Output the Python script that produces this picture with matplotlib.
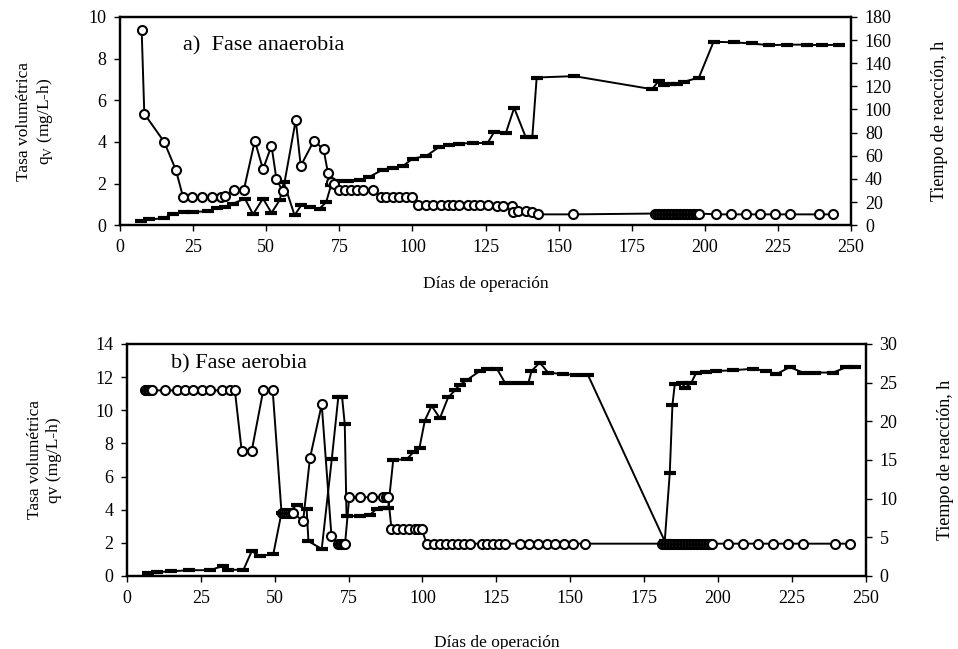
import numpy as np
import matplotlib
matplotlib.use("Agg")
import matplotlib.pyplot as plt

plt.rcParams['font.family'] = ['Liberation Serif', 'DejaVu Serif']

# ---- a) fase anaerobia ----
# qv (mg/L-h), circles, left axis
a_qv_dias = [7.4, 8.3, 15.1, 19.1, 21.6, 24.5, 27.9, 31.3, 34.7, 35.8, 38.9, 42.3,
             46.1, 48.9, 51.8, 53.5, 55.7, 60.1, 61.8, 66.3, 69.6, 71.1, 72.3, 73.3,
             75, 77, 79, 81, 83, 86.5, 89.3, 91, 93.3, 95.5, 97.8, 100,
             101.8, 104.7, 107, 109.7, 112, 114, 116, 119, 121, 123, 126, 129, 131,
             134, 134.5, 136, 138.8, 141, 143.1, 155,
             183, 183.5, 184, 184.5, 185, 185.5, 186, 186.5, 187, 187.5, 188, 188.5,
             189, 189.5, 190, 190.5, 191, 191.5, 192, 192.5, 193, 193.5, 194, 194.5,
             195, 195.5, 196, 196.5, 197, 197.5, 198,
             204, 209, 214, 219, 224, 229, 239, 244]
a_qv = [9.35, 5.35, 4.0, 2.65, 1.33, 1.33, 1.33, 1.33, 1.33, 1.4, 1.7, 1.67,
        4.05, 2.68, 3.82, 2.2, 1.62, 5.05, 2.85, 4.05, 3.65, 2.52, 2.05, 2.0,
        1.7, 1.7, 1.7, 1.7, 1.67, 1.67, 1.35, 1.35, 1.35, 1.35, 1.35, 1.35,
        0.97, 0.97, 0.97, 0.97, 0.97, 0.97, 0.97, 0.97, 0.97, 0.97, 0.97, 0.93, 0.93,
        0.93, 0.62, 0.7, 0.7, 0.65, 0.52, 0.52,
        0.56, 0.56, 0.56, 0.56, 0.56, 0.56, 0.56, 0.56, 0.56, 0.56, 0.56, 0.56,
        0.56, 0.56, 0.56, 0.56, 0.56, 0.56, 0.56, 0.56, 0.56, 0.56, 0.56, 0.56,
        0.56, 0.56, 0.56, 0.56, 0.56, 0.56, 0.56,
        0.52, 0.52, 0.52, 0.52, 0.52, 0.52, 0.52, 0.52]

# tiempo de reaccion (h), dashes, right axis
a_t_dias = [7, 10, 15, 18, 22, 25, 30, 33, 36, 38.7, 42.7, 45.5, 48.9, 51.8, 54.6,
            56, 59.7, 62, 64.8, 68.3, 70.5, 72.2, 74, 78, 82, 85.3, 89.9, 93.3, 96.7,
            100.1, 104.7, 109.2, 112.6, 116, 120.6, 125.7, 128, 132, 134.8, 138.8, 141,
            142.5, 155.3, 182, 184.3, 186, 188, 190.6, 193, 198, 203, 210, 216, 222,
            228, 235, 240, 246]
a_t = [4, 5, 6, 10, 11, 11.5, 12, 15, 16, 18.7, 23, 9.5, 23, 10.7, 21.6,
       37, 8.6, 17.3, 15.6, 14.4, 20, 34.6, 38, 38.5, 39, 41.8, 48.1, 49.8, 51,
       57.6, 59.7, 67.7, 69, 70.5, 71, 71, 80.7, 80, 101.4, 75.8, 75.8,
       127.6, 128.8, 117.5, 125, 121, 122, 122.4, 124, 127.6, 158.5, 158, 157, 155.5,
       156, 156, 155.5, 156]

# ---- b) fase aerobia ----
b_qv_dias = [6, 6.5, 7, 7.5, 8, 8.4, 12.9, 16.8, 19.6, 22.4, 25.3, 28.1, 32, 34.8, 36.5,
             38.8, 42.2, 46.1, 49.3, 52.3, 53, 53.7, 54.4, 55.1, 55.8, 56.3, 59.6, 61.9, 65.9,
             69.2, 71.5, 72, 72.5, 73, 73.5, 73.8, 75.2, 78.8, 82.8, 86.7, 87.5, 88.4,
             89.5, 91.5, 93.5, 95.5, 97.4, 98.5, 99.7,
             101.4, 104, 106, 108, 110, 112, 114, 116, 120, 122, 124, 126, 128, 133,
             136, 139, 142, 145, 148, 151, 155,
             181, 181.5, 182, 182.5, 183, 183.5, 184, 184.5, 185, 185.5, 186, 186.5,
             187, 187.5, 188, 188.5, 189, 189.5, 190, 190.5, 191, 191.5, 192, 192.5,
             193, 193.5, 194, 194.5, 195, 195.5, 196, 196.5, 197, 197.5, 198,
             203.4, 208.5, 213.6, 218.6, 223.7, 228.8, 239.5, 244.6]
b_qv = [11.2, 11.2, 11.2, 11.2, 11.2, 11.2, 11.2, 11.2, 11.2, 11.2, 11.2, 11.2, 11.2, 11.2, 11.2,
        7.55, 7.55, 11.2, 11.2, 3.8, 3.8, 3.8, 3.8, 3.8, 3.8, 3.8, 3.3, 7.1, 10.35,
        2.4, 1.95, 1.95, 1.95, 1.95, 1.95, 1.95, 4.75, 4.75, 4.75, 4.75, 4.75, 4.75,
        2.85, 2.85, 2.85, 2.85, 2.85, 2.85, 2.85,
        1.95, 1.95, 1.95, 1.95, 1.95, 1.95, 1.95, 1.95, 1.95, 1.95, 1.95, 1.95, 1.95, 1.95,
        1.95, 1.95, 1.95, 1.95, 1.95, 1.95, 1.95,
        1.95, 1.95, 1.95, 1.95, 1.95, 1.95, 1.95, 1.95, 1.95, 1.95, 1.95, 1.95,
        1.95, 1.95, 1.95, 1.95, 1.95, 1.95, 1.95, 1.95, 1.95, 1.95, 1.95, 1.95,
        1.95, 1.95, 1.95, 1.95, 1.95, 1.95, 1.95, 1.95, 1.95, 1.95, 1.95,
        1.95, 1.95, 1.95, 1.95, 1.95, 1.95, 1.95, 1.95]

b_t_dias = [7, 10, 15, 21, 28, 32.6, 34.3, 39.4, 42.2, 45, 49.5, 52.3, 55, 57.4, 60.8,
            61.4, 65.9, 69.3, 71.5, 72.8, 73.7, 74.3, 79, 82.2, 84.5, 87, 88.4, 90.1,
            94.7, 96.9, 99, 100.8, 103.1, 105.9, 108.7, 111, 112.6, 114.9, 119.4, 121.7,
            125.2, 127.9, 131.8, 135.8, 136.9, 139.7, 142.5, 147.6, 152.1, 156,
            182, 183.7, 184.6, 185.4, 187.7, 189, 191, 192.7, 196, 199.5, 205.1, 211.9,
            216.4, 219.8, 224.3, 228.8, 233, 238.9, 243.5, 246.3]
b_t = [0.4, 0.5, 0.6, 0.75, 0.75, 1.3, 0.8, 0.8, 3.2, 2.6, 2.8, 8.2, 8.3, 9.2, 8.6,
       4.5, 3.5, 15.1, 23.1, 23.1, 19.6, 7.7, 7.8, 7.9, 8.7, 8.8, 8.8, 15,
       15.1, 16, 16.6, 20.1, 22, 20.4, 23.1, 24, 24.7, 25.3, 26.5, 26.8,
       26.8, 25, 24.9, 24.9, 26.5, 27.6, 26.3, 26.1, 26.0, 26.0,
       4.5, 13.3, 22.1, 24.8, 25.0, 24.3, 25, 26.3, 26.4, 26.5, 26.6, 26.8,
       26.5, 26.1, 27, 26.3, 26.3, 26.3, 27, 27]

fig = plt.figure(figsize=(9.58, 6.49), dpi=100)

circ = dict(color='black', lw=1.4, marker='o', ms=6.5, mfc='white', mec='black', mew=1.5)
dash = dict(color='black', lw=1.4, marker='_', ms=9, mew=3)


def panel(rect, qv_d, qv, t_d, t, ymax, ystep, tmax, tstep, titulo, tpos, ylab2, xpad):
    ax = fig.add_axes(rect)
    ax2 = ax.twinx()
    ax2.plot(t_d, t, **dash)
    ax.plot(qv_d, qv, **circ)
    ax.set_zorder(ax2.get_zorder() + 1)
    ax.patch.set_visible(False)
    ax.set_xlim(0, 250)
    ax.set_xticks(np.arange(0, 251, 25))
    ax.set_ylim(0, ymax)
    ax.set_yticks(np.arange(0, ymax + 0.1, ystep))
    ax2.set_ylim(0, tmax)
    ax2.set_yticks(np.arange(0, tmax + 0.1, tstep))
    for a in (ax, ax2):
        for s in a.spines.values():
            s.set_linewidth(1.6)
        a.tick_params(labelsize=13, length=4, width=1, direction='out', pad=6)
    ax.text(tpos[0], tpos[1], titulo, fontsize=16, va='center', ha='left')
    ax.set_xlabel('Días de operación', fontsize=12.5, labelpad=xpad)
    ax.set_ylabel(ylab2, fontsize=12.5, labelpad=24)
    ax2.set_ylabel('Tiempo de reacción, h', fontsize=13, labelpad=28)
    return ax, ax2


panel([0.1253, 0.653, 0.763, 0.321], a_qv_dias, a_qv, a_t_dias, a_t,
      10, 2, 180, 20, 'a)  Fase anaerobia', (21.5, 8.6),
      'Tasa volumétrica\nq$_\\mathregular{V}$ (mg/L-h)', 14)
panel([0.1326, 0.1125, 0.771, 0.3575], b_qv_dias, b_qv, b_t_dias, b_t,
      14, 2, 30, 5, 'b) Fase aerobia', (15, 12.8),
      'Tasa volumétrica\nqv (mg/L-h)', 20)

fig.savefig('out.png', dpi=100)
